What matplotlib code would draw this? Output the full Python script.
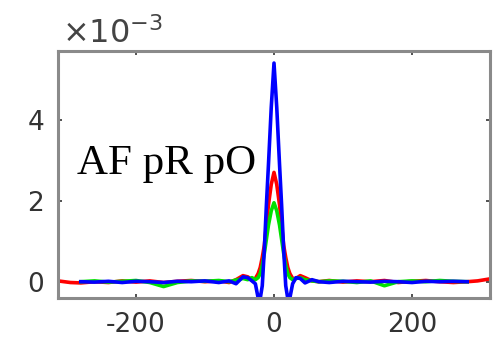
import matplotlib
matplotlib.use("Agg")
import matplotlib.pyplot as plt

# lags (samples) and correlation values in units of 1e-3
lag_red = [-313, -295, -280, -260, -240, -220, -200, -180, -160, -140, -120, -100,
           -80, -65, -55, -45, -38, -32, -27, -23, -20, -17, -14, -11, -8, -4, 0,
           4, 8, 11, 14, 17, 20, 23, 27, 32, 38, 45, 55, 65, 80, 100, 120, 140,
           160, 180, 200, 220, 240, 260, 280, 295, 313]
red = [0.02, -0.02, -0.03, 0.00, -0.02, 0.02, -0.01, 0.02, -0.02, 0.01, 0.03, 0.00,
       0.02, -0.02, 0.05, 0.15, 0.12, 0.05, 0.08, 0.2, 0.35, 0.6, 0.9, 1.4, 1.9, 2.4, 2.7,
       2.4, 1.9, 1.4, 0.9, 0.6, 0.35, 0.2, 0.08, 0.08, 0.15, 0.1, 0.02, 0.00, 0.03, -0.01,
       0.02, 0.00, 0.03, -0.02, 0.01, 0.03, 0.00, -0.02, 0.00, 0.02, 0.07]

lag_bg = [-280, -260, -240, -220, -200, -180, -160, -140, -120, -100,
          -80, -65, -55, -45, -38, -32, -27, -23, -20, -17, -14, -11, -8, -4, 0,
          4, 8, 11, 14, 17, 20, 23, 27, 32, 38, 45, 55, 65, 80, 100, 120, 140,
          160, 180, 200, 220, 240, 260, 280]
green = [0.00, 0.02, -0.01, 0.01, 0.03, -0.02, -0.12, -0.02, 0.02, 0.01,
         0.03, 0.00, 0.04, 0.08, 0.05, 0.1, 0.05, 0.1, 0.2, 0.4, 0.7, 1.05, 1.4, 1.75, 1.95,
         1.75, 1.4, 1.05, 0.7, 0.4, 0.2, 0.1, 0.05, 0.08, 0.1, 0.05, 0.02, 0.00, 0.02, 0.01,
         -0.02, 0.02, -0.10, 0.00, 0.02, 0.00, 0.03, 0.01, 0.00]
blue = [0.00, -0.01, 0.01, -0.02, 0.01, 0.00, -0.02, 0.01, 0.00, 0.02,
        -0.02, 0.02, -0.05, 0.12, 0.1, 0.02, -0.05, -0.4, -0.42, -0.1, 0.8, 1.9, 2.9, 4.3, 5.4,
        4.3, 2.9, 1.9, 0.8, -0.1, -0.42, -0.4, -0.05, 0.1, 0.08, -0.03, 0.05, 0.00, -0.02, 0.01,
        0.00, -0.01, 0.01, 0.00, -0.02, 0.01, 0.00, 0.01, 0.00]

x_ticks = [-200, 0, 200]
y_ticks = [0, 2, 4]

plt.rcParams.update({
    "font.family": "DejaVu Sans",
    "axes.unicode_minus": False,
    "mathtext.fontset": "custom",
    "mathtext.rm": "DejaVu Sans",
    "mathtext.it": "DejaVu Sans",
})

GRAY = "#8a8a8a"
fig = plt.figure(figsize=(5.0, 3.44), dpi=100)
ax = fig.add_axes([0.116, 0.134, 0.864, 0.718])

ax.plot(lag_red, red, color="#ff0000", linewidth=2.6)
ax.plot(lag_bg, green, color="#00e000", linewidth=2.6)
ax.plot(lag_bg, blue, color="#0000ff", linewidth=2.6)

ax.set_xlim(-313, 313)
ax.set_ylim(-0.4, 5.7)
ax.set_xticks(x_ticks)
ax.set_yticks(y_ticks)
ax.tick_params(direction="in", length=3, width=1.2, color="#333333",
               top=True, right=True, labelsize=19, labelcolor="#333333")
ax.tick_params(axis="x", pad=10)
ax.tick_params(axis="y", pad=10)
for s in ax.spines.values():
    s.set_color(GRAY)
    s.set_linewidth(2.2)

fig.text(0.124, 0.875, r"$\times10^{-3}$", fontsize=23, color="#444444",
         ha="left", va="baseline")
ax.text(-285, 2.65, "AF pR pO", family="Liberation Serif", fontsize=31,
        color="black", ha="left", va="baseline")

fig.savefig("out.png")
